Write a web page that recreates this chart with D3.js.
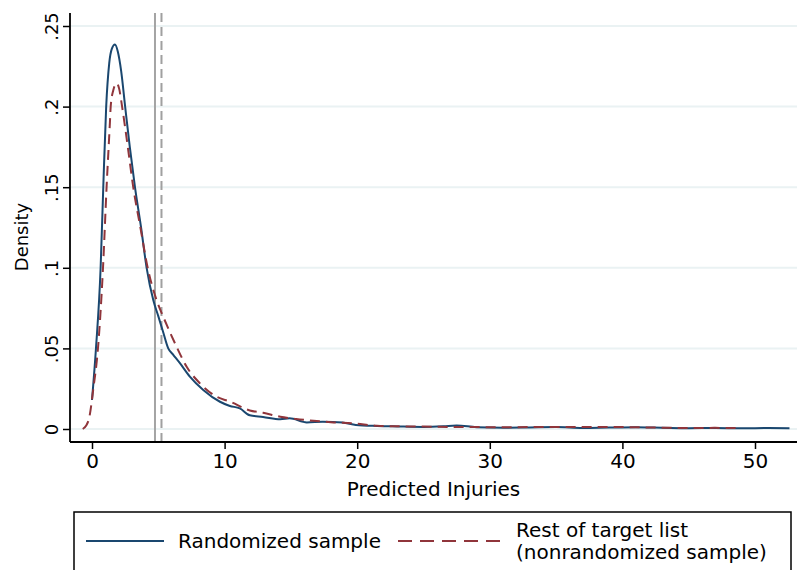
<!DOCTYPE html>
<html><head><meta charset="utf-8">
<script src="https://cdn.jsdelivr.net/npm/d3@7"></script>
<style>body{margin:0;background:#fff}svg{display:block}text{font-family:"DejaVu Sans",sans-serif;fill:#000}</style>
</head><body><div id="chart"></div>
<script>
const xTicks = [0, 10, 20, 30, 40, 50];
const yTicks = [0, 0.05, 0.1, 0.15, 0.2, 0.25];
const yTickLabels = ["0", ".05", ".1", ".15", ".2", ".25"];
const refLines = [4.75, 5.24]; // solid, dashed
const seriesNames = ["Randomized sample", "Rest of target list", "(nonrandomized sample)"];

const randomizedX = [0.0,0.3,0.65,0.85,1.07,1.3,1.5,1.73,1.95,2.2,2.5,2.85,3.24,3.7,4.12,4.62,5.0,5.37,5.75,6.13,6.63,7.38,8.39,9.65,10.4,11.15,11.9,12.9,14.2,14.9,16.2,17.4,18.9,19.9,21.5,23,25,26.5,27.5,29,31,33,35,37,39,41,43,45,47,49,51,52.6];
const randomizedY = [0.018,0.05,0.10,0.15,0.20,0.227,0.236,0.2385,0.234,0.222,0.20,0.175,0.15,0.125,0.10,0.08,0.07,0.06,0.05,0.046,0.0408,0.0325,0.0242,0.0169,0.0143,0.0128,0.0085,0.0075,0.006,0.0066,0.0041,0.0045,0.0041,0.0025,0.0019,0.0016,0.0013,0.0017,0.0022,0.0011,0.0008,0.001,0.0012,0.0006,0.0009,0.0011,0.0008,0.0005,0.0006,0.0004,0.0006,0.0005];

const restX = [-0.7,-0.45,-0.2,0.1,0.45,0.83,1.1,1.35,1.41,1.6,1.86,2.05,2.27,2.7,3.11,3.65,4.2,4.87,5.37,6.38,7.14,8.14,9.4,10.4,11.9,12.9,14.2,15.4,16.7,18.2,19.7,21.5,23,25,27,29,31,33,35,37,39,41,43,45,47,48.7];
const restY = [0.0,0.002,0.0074,0.025,0.05,0.10,0.15,0.19,0.20,0.21,0.2145,0.211,0.20,0.175,0.15,0.125,0.10,0.08,0.0697,0.051,0.0386,0.0283,0.02,0.017,0.0115,0.0101,0.0076,0.0062,0.0051,0.0041,0.0035,0.002,0.0017,0.0015,0.0013,0.0012,0.0011,0.0012,0.0013,0.0012,0.0013,0.0011,0.0008,0.0006,0.0007,0.0006];

const W = 797, H = 570;
const svg = d3.select("#chart").append("svg").attr("width", W).attr("height", H);

const x = d3.scaleLinear().domain([0, 50]).range([92, 755]);
const y = d3.scaleLinear().domain([0, 0.25]).range([429, 26]);
const pL = 70, pR = 797, pT = 13, pB = 442;

svg.append("defs").append("clipPath").attr("id","clip").append("rect")
  .attr("x", pL).attr("y", pT).attr("width", pR-pL).attr("height", pB-pT);

// gridlines
svg.append("g").selectAll("line").data(yTicks).join("line")
  .attr("x1", pL+1).attr("x2", pR).attr("y1", d=>y(d)).attr("y2", d=>y(d))
  .attr("stroke", "#eaf2f3").attr("stroke-width", 2);

// reference lines
svg.append("line").attr("x1", x(refLines[0])).attr("x2", x(refLines[0])).attr("y1", pT).attr("y2", pB)
  .attr("stroke", "#a4a4a4").attr("stroke-width", 2);
svg.append("line").attr("x1", x(refLines[1])).attr("x2", x(refLines[1])).attr("y1", pT).attr("y2", pB)
  .attr("stroke", "#a0a0a0").attr("stroke-width", 2).attr("stroke-dasharray", "9,5");

const line = d3.line().x(d=>x(d[0])).y(d=>y(d[1])).curve(d3.curveMonotoneX);
const g = svg.append("g").attr("clip-path", "url(#clip)");
g.append("path").datum(randomizedX.map((v,i)=>[v, randomizedY[i]])).attr("d", line)
  .attr("fill","none").attr("stroke","#1a476f").attr("stroke-width",2);
g.append("path").datum(restX.map((v,i)=>[v, restY[i]])).attr("d", line)
  .attr("fill","none").attr("stroke","#90353b").attr("stroke-width",2).attr("stroke-dasharray","10,6");

// axes
const yAxis = svg.append("g").attr("transform", `translate(${pL},0)`)
  .call(d3.axisLeft(y).tickValues(yTicks).tickSize(7).tickFormat((d,i)=>yTickLabels[i]));
yAxis.select(".domain").attr("d", `M0,${pT}V${pB}`).attr("stroke-width", 1.8);
yAxis.selectAll(".tick line").attr("stroke-width", 1.5);
yAxis.selectAll(".tick text").attr("font-size", 18).attr("font-family","DejaVu Sans")
  .attr("x", null).attr("text-anchor","middle")
  .attr("transform", "translate(-18,0) rotate(-90)").attr("dy", "0.32em");

const xAxis = svg.append("g").attr("transform", `translate(0,${pB})`)
  .call(d3.axisBottom(x).tickValues(xTicks).tickSize(7).tickFormat(d3.format("d")));
xAxis.select(".domain").attr("d", `M${pL},0H${pR}`).attr("stroke-width", 1.8);
xAxis.selectAll(".tick line").attr("stroke-width", 1.5);
xAxis.selectAll(".tick text").attr("font-size", 20).attr("font-family","DejaVu Sans").attr("y", 12);

svg.append("text").attr("x", (pL+pR)/2).attr("y", 496).attr("text-anchor","middle")
  .attr("font-size", 20).text("Predicted Injuries");
svg.append("text").attr("transform", "translate(28,237) rotate(-90)").attr("text-anchor","middle")
  .attr("font-size", 18).text("Density");

// legend
svg.append("rect").attr("x", 74).attr("y", 512).attr("width", 717).attr("height", 70)
  .attr("fill","none").attr("stroke","#000").attr("stroke-width",1.5);
svg.append("line").attr("x1",86).attr("x2",164).attr("y1",541).attr("y2",541)
  .attr("stroke","#1a476f").attr("stroke-width",2);
svg.append("text").attr("x",178).attr("y",548).attr("font-size",20).text(seriesNames[0]);
svg.append("line").attr("x1",398).attr("x2",502).attr("y1",541).attr("y2",541)
  .attr("stroke","#90353b").attr("stroke-width",2).attr("stroke-dasharray","14,8");
svg.append("text").attr("x",516).attr("y",537).attr("font-size",20).text(seriesNames[1]);
svg.append("text").attr("x",516).attr("y",559).attr("font-size",20).text(seriesNames[2]);
</script></body></html>
